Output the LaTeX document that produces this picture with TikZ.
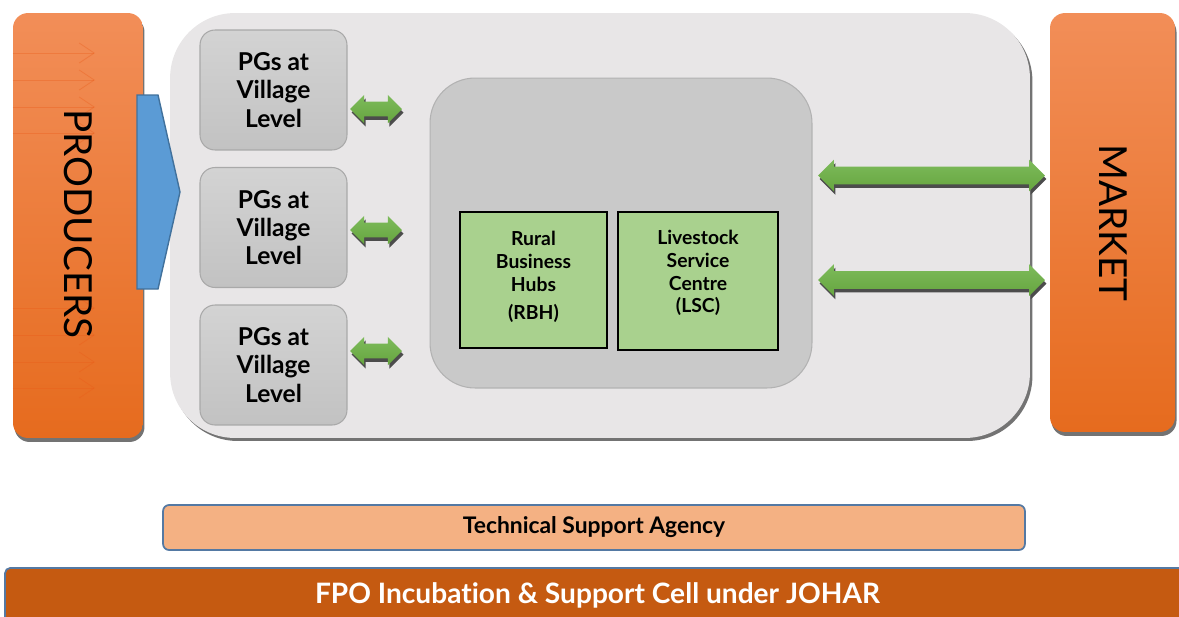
\documentclass[tikz,border=0pt]{standalone}
\usepackage{fontspec}
\setmainfont{Lato}[Ligatures=NoCommon]
\usetikzlibrary{arrows.meta, positioning, shapes.arrows, shadows}
\usepackage{xcolor}

\definecolor{orangetop}{HTML}{F28E58}
\definecolor{orangemid}{HTML}{F47E30}
\definecolor{orangebot}{HTML}{E66B1E}
\definecolor{panelgray}{HTML}{E8E6E7}
\definecolor{hubgray}{HTML}{C9C9C9}
\definecolor{hubline}{HTML}{B2B2B2}
\definecolor{pgtop}{HTML}{D3D3D3}
\definecolor{pgbot}{HTML}{C2C2C2}
\definecolor{pgline}{HTML}{A9A9A9}
\definecolor{hubgreen}{HTML}{A9D18E}
\definecolor{arrowtop}{HTML}{7DBB5B}
\definecolor{arrowbot}{HTML}{66A53F}
\definecolor{bluefill}{HTML}{5B9BD5}
\definecolor{blueline}{HTML}{41719C}
\definecolor{tsafill}{HTML}{F4B183}
\definecolor{tsaline}{HTML}{5479A3}
\definecolor{fpofill}{HTML}{C55A11}

\begin{document}
\begin{tikzpicture}[x=0.02cm, y=-0.02cm,
  sidebox/.style={rounded corners=0.3cm, top color=orangetop, middle color=orangemid, bottom color=orangebot, draw=none, drop shadow={shadow xshift=0.03cm, shadow yshift=-0.08cm, fill=black!55, opacity=1}},
  sidetext/.style={rotate=-90, font=\fontsize{22}{26}\selectfont},
  pgbox/.style={rounded corners=0.3cm, top color=pgtop, bottom color=pgbot, draw=pgline, line width=0.6pt, minimum width=2.94cm, minimum height=2.4cm, align=center, font=\bfseries\fontsize{14}{16}\selectfont},
  greenbox/.style={fill=hubgreen, draw=black, line width=1pt},
  greentext/.style={align=center, font=\bfseries\fontsize{11}{13}\selectfont},
  darrow/.style={double arrow, inner xsep=0pt, draw=none, top color=arrowtop, bottom color=arrowbot, drop shadow={shadow xshift=0.03cm, shadow yshift=-0.07cm, fill=black!70, opacity=1}},
  faint/.style={draw=orangebot!85!red, opacity=0.35, line width=0.5pt, -{Straight Barb[length=0.3cm, width=0.4cm]}}]
\useasboundingbox (0,0) rectangle (1179,616);

% main panel
\node[rounded corners=1.3cm, fill=panelgray, minimum width=17.2cm, minimum height=8.5cm, drop shadow={shadow xshift=0.05cm, shadow yshift=-0.06cm, fill=black!55, opacity=1}] (panel) at (600,225.5) {};

% producers and market
\node[sidebox, minimum width=2.6cm, minimum height=8.5cm] (prod) at (78,225.5) {};
\foreach \y in {53,80,107,133,308,335,362,388}
  \draw[faint] (prod.west |- 0,\y) -- (95,\y);
\node[sidetext] (prodtext) at (78,224) {PRODUCERS};
\node[sidebox, minimum width=2.5cm, minimum height=8.38cm] (market) at (1112.5,222.5) {};
\node[sidetext] (markettext) at (1113,223) {MARKET};

% blue arrow into the panel
\draw[fill=bluefill, draw=blueline, line width=0.8pt] (137,95) -- (158,95) -- (180,192) -- (158,289) -- (137,289) -- cycle;

% PGs
\node[pgbox] (pg1) at (273.5,90) {PGs at\\Village\\Level};
\node[pgbox] (pg2) at (273.5,227.5) {PGs at\\Village\\Level};
\node[pgbox] (pg3) at (273.5,365) {PGs at\\Village\\Level};

% hub
\node[rounded corners=0.9cm, fill=hubgray, draw=hubline, line width=0.6pt, minimum width=7.64cm, minimum height=6.2cm] (hub) at (621,233) {};
\node[greenbox, minimum width=2.94cm, minimum height=2.72cm] (rbh) at (533.5,280) {};
\node[greentext] (rbhtext) at ([yshift=0.06cm]rbh.center) {Rural\\Business\\Hubs\\[3pt](RBH)};
\node[greenbox, minimum width=3.2cm, minimum height=2.76cm] (lsc) at (698,281) {};
\node[greentext] (lsctext) at ([yshift=0.16cm]lsc.center) {Livestock\\Service\\Centre\\(LSC)};

% arrows
\foreach \y [count=\i] in {109,230,351}
  \node[darrow, minimum height=1.04cm, inner ysep=0.14cm, double arrow head extend=0.135cm] (pga\i) at (376,\y) {};
\node[darrow, minimum height=4.54cm, inner ysep=0.17cm, double arrow head extend=0.14cm] (mka1) at (931.5,175.5) {};
\node[darrow, minimum height=4.54cm, inner ysep=0.17cm, double arrow head extend=0.14cm] (mka2) at (931.5,280) {};

% support bars
\node[rounded corners=0.12cm, fill=tsafill, draw=tsaline, line width=1pt, minimum width=17.24cm, minimum height=0.9cm, font=\bfseries\fontsize{13}{15}\selectfont] (tsa) at (594,527.5) {Technical Support Agency};
\node[rounded corners=0.1cm, fill=fpofill, draw=tsaline, line width=1pt, minimum width=23.7cm, minimum height=1.08cm, text=white, font=\bfseries\fontsize{16}{19}\selectfont] (fpo) at (597.5,595) {FPO Incubation \& Support Cell under JOHAR};
\end{tikzpicture}
\end{document}
